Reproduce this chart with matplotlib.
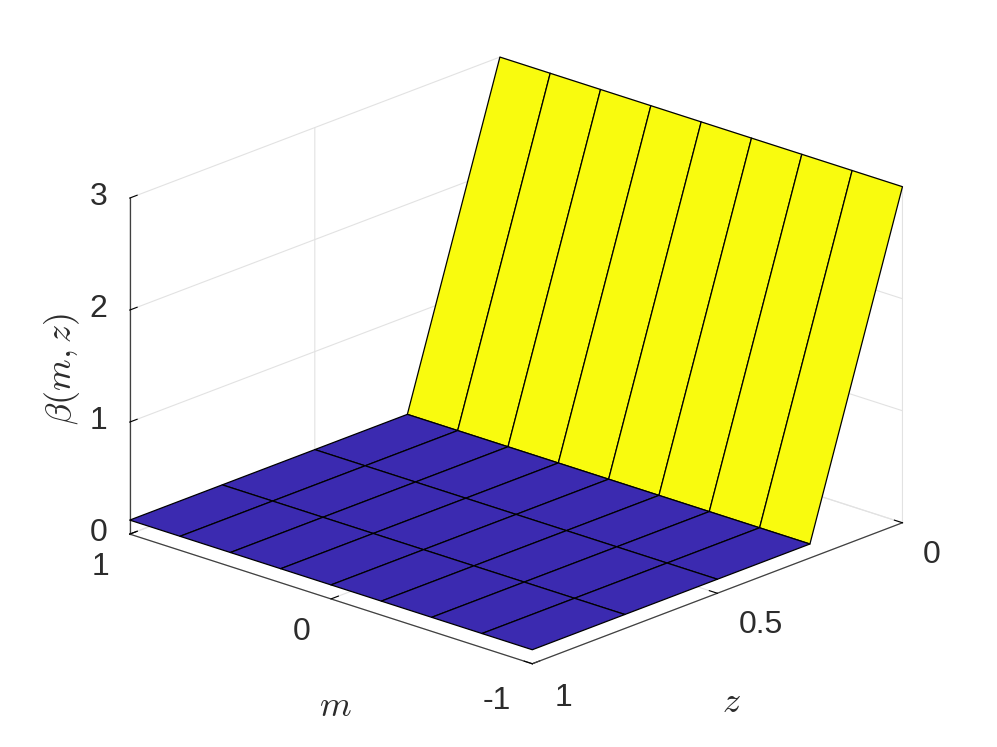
import numpy as np
import matplotlib
matplotlib.use('Agg')
import matplotlib.pyplot as plt
from mpl_toolkits.mplot3d import Axes3D, proj3d

plt.rcParams['font.family'] = ['Liberation Sans', 'DejaVu Sans']
plt.rcParams['mathtext.fontset'] = 'cm'

# values
m_values = [-1, -0.75, -0.5, -0.25, 0, 0.25, 0.5, 0.75, 1]
z_values = [0, 0.25, 0.5, 0.75, 1]
beta_by_z = [3, 0.125, 0.125, 0.125, 0.125]
m_ticks = [-1, 0, 1]
z_ticks = [0, 0.5, 1]
beta_ticks = [0, 1, 2, 3]
m_ticklabels = ['-1', '0', '1']
z_ticklabels = ['0', '0.5', '1']
beta_ticklabels = ['0', '1', '2', '3']

blue = '#3B2AB0'
yellow = '#F9FB0E'
grid_col = '#E2E2E2'
axis_col = '#404040'
text_col = '#2C2C2C'

M, Z = np.meshgrid(m_values, z_values)
B = np.array([[b] * len(m_values) for b in beta_by_z], dtype=float)

colors = np.empty((len(z_values) - 1, len(m_values) - 1), dtype=object)
for i in range(len(z_values) - 1):
    colors[i, :] = yellow if i == 0 else blue

W, H = 997, 747
fig = plt.figure(figsize=(W / 100, H / 100), dpi=100)
ax = fig.add_axes([7.5 / W, 3 / H, 1.0, 1.0], projection='3d', proj_type='ortho')
ax.view_init(elev=20.5, azim=132.6)
ax.set_box_aspect((1.0, 1.0, 0.656), zoom=1.108)

surf = ax.plot_surface(M, Z, B, facecolors=colors, edgecolor='black', linewidth=0.9,
                       shade=False, rstride=1, cstride=1)
surf.set_clip_on(False)

ax.set_xlim(-1, 1)
ax.set_ylim(0, 1)
ax.set_zlim(0, 3)
ax.set_xticks(m_ticks)
ax.set_yticks(z_ticks)
ax.set_zticks(beta_ticks)
ax.set_xticklabels([])
ax.set_yticklabels([])
ax.set_zticklabels([])
ax.zaxis.set_ticks_position('upper')

for axis in (ax.xaxis, ax.yaxis, ax.zaxis):
    axis.set_pane_color((1, 1, 1, 0))
    axis.pane.set_edgecolor(grid_col)
    axis._axinfo['grid']['color'] = grid_col
    axis._axinfo['grid']['linewidth'] = 0.8
    axis._axinfo['tick']['color'] = axis_col
    axis._axinfo['tick']['linewidth'] = {True: 0.8, False: 0.8}
    axis._axinfo['tick']['inward_factor'] = 0.0
    axis._axinfo['tick']['outward_factor'] = 0.25
    axis.line.set_color(axis_col)
    axis.line.set_linewidth(0.9)

proj = ax.get_proj()


def tick_text(x, y, z, label, dx, dy):
    # place a label at an offset in pixels from the projected tick
    px, py, _ = proj3d.proj_transform(x, y, z, proj)
    ax.annotate(label, xy=(px, py), xytext=(dx, dy), textcoords='offset pixels',
                ha='center', va='center', fontsize=23, color=text_col,
                annotation_clip=False)


for v, lab in zip(m_ticks, m_ticklabels):
    if lab == '-1':
        tick_text(v, 1, 0, lab, -35, -37)
    else:
        tick_text(v, 1, 0, lab, -29, -33)
tick_text(-1, 0, 0, z_ticklabels[0], 29, -32)
tick_text(-1, 0.5, 0, z_ticklabels[1], 43, -32)
tick_text(-1, 1, 0, z_ticklabels[2], 31, -34)
for v, lab in zip(beta_ticks, beta_ticklabels):
    tick_text(1, 1, v, lab, -31, 1)

fig.text(335 / W, 1 - 706 / H, '$m$', fontsize=26, color=text_col,
         ha='center', va='center')
fig.text(731 / W, 1 - 703 / H, '$z$', fontsize=26, color=text_col,
         ha='center', va='center')
fig.text(62 / W, 1 - 369 / H, r'$\beta(m,z)$', fontsize=26, color=text_col,
         ha='center', va='center', rotation=90)

fig.savefig('out.png', dpi=100)
